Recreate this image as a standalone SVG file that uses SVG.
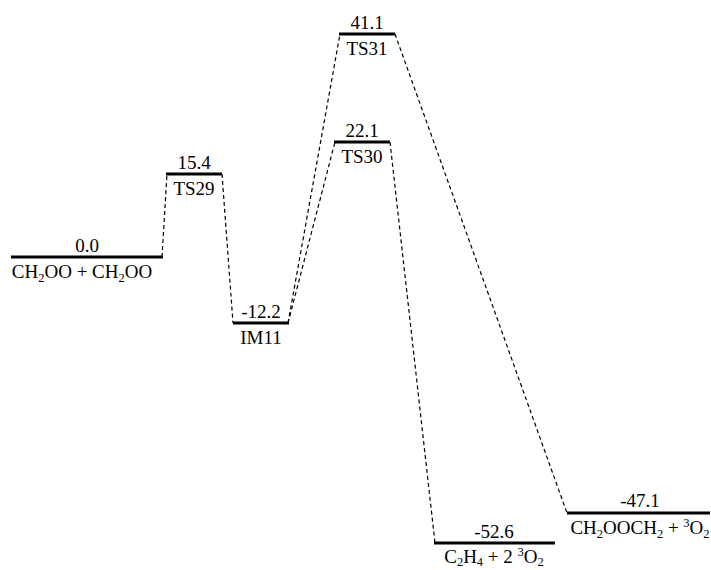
<svg xmlns="http://www.w3.org/2000/svg" width="711" height="570" viewBox="0 0 711 570">
<style>
.lvl{stroke:#000;stroke-width:3;fill:none}
.con{stroke:#000;stroke-width:1.2;stroke-dasharray:4,3;fill:none}
text{font-family:"Liberation Serif","Times New Roman",serif;font-size:19px;fill:#000;text-anchor:middle}
.s{font-size:12.5px}
</style>
<rect width="711" height="570" fill="#fff"/>
<g id="connectors">
<line class="con" x1="162" y1="257" x2="167" y2="174"/>
<line class="con" x1="222" y1="174" x2="233" y2="323"/>
<line class="con" x1="288" y1="323" x2="335" y2="142"/>
<line class="con" x1="288" y1="323" x2="340" y2="34"/>
<line class="con" x1="395" y1="34" x2="567" y2="513"/>
<line class="con" x1="390" y1="142" x2="435" y2="543"/>
</g>
<g id="R">
<line class="lvl" x1="11" y1="257" x2="163" y2="257"/>
<text x="87" y="252">0.0</text>
<text x="82" y="278">CH<tspan class="s" dy="4">2</tspan><tspan dy="-4">OO + CH</tspan><tspan class="s" dy="4">2</tspan><tspan dy="-4">OO</tspan></text>
</g>
<g id="TS29">
<line class="lvl" x1="166" y1="174" x2="222" y2="174"/>
<text x="194" y="169">15.4</text>
<text x="194" y="195">TS29</text>
</g>
<g id="IM11">
<line class="lvl" x1="233" y1="323" x2="289" y2="323"/>
<text x="261" y="318">-12.2</text>
<text x="261" y="344">IM11</text>
</g>
<g id="TS30">
<line class="lvl" x1="334" y1="142" x2="390" y2="142"/>
<text x="362" y="137">22.1</text>
<text x="362" y="163">TS30</text>
</g>
<g id="TS31">
<line class="lvl" x1="339" y1="34" x2="395" y2="34"/>
<text x="367" y="29">41.1</text>
<text x="367" y="55">TS31</text>
</g>
<g id="P1">
<line class="lvl" x1="434" y1="543" x2="555" y2="543"/>
<text x="494" y="538">-52.6</text>
<text x="494" y="563">C<tspan class="s" dy="3">2</tspan><tspan dy="-3">H</tspan><tspan class="s" dy="3">4</tspan><tspan dy="-3"> + 2 </tspan><tspan class="s" dy="-7">3</tspan><tspan dy="7">O</tspan><tspan class="s" dy="3">2</tspan></text>
</g>
<g id="P2">
<line class="lvl" x1="567" y1="513" x2="710" y2="513"/>
<text x="640" y="507">-47.1</text>
<text x="640" y="534">CH<tspan class="s" dy="4">2</tspan><tspan dy="-4">OOCH</tspan><tspan class="s" dy="4">2</tspan><tspan dy="-4"> + </tspan><tspan class="s" dy="-7">3</tspan><tspan dy="7">O</tspan><tspan class="s" dy="4">2</tspan></text>
</g>
</svg>
